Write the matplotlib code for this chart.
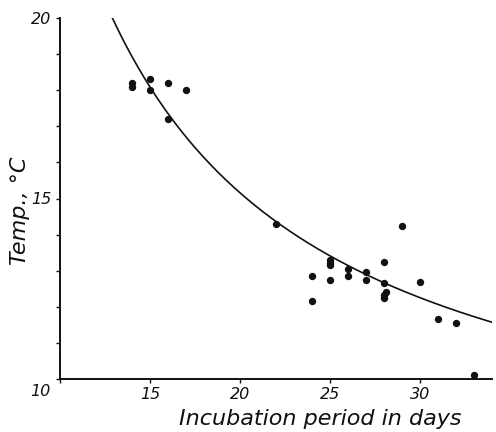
import numpy as np
import matplotlib
matplotlib.use("Agg")
import matplotlib.pyplot as plt
from matplotlib.ticker import MultipleLocator, FixedLocator

# Observed points (incubation period in days, temperature in deg C)
days = [14, 14, 15, 15, 16, 16, 17, 22, 24, 24, 25, 25, 25, 25, 26, 26,
        27, 27, 28, 28, 28.1, 28, 28, 29, 30, 31, 32, 33]
temps = [18.2, 18.1, 18.3, 18.0, 18.2, 17.2, 18.0, 14.3, 12.85, 12.15,
         13.3, 13.22, 13.15, 12.75, 13.05, 12.85, 12.97, 12.73,
         13.25, 12.65, 12.4, 12.32, 12.25, 14.25, 12.68, 11.67, 11.55, 10.1]

# Points
curve_days = [12.9, 14.1, 15.0, 16.1, 16.9, 19.4, 22.0, 25.0, 28.0, 30.6, 34.0]
curve_temp = [20.0, 18.83, 18.1, 17.25, 16.85, 15.45, 14.3, 13.35, 12.68, 12.21, 11.55]

x_ticks = [15, 20, 25, 30]
x_tick_labels = ["15", "20", "25", "30"]
y_ticks = [15, 20]
y_tick_labels = ["15", "20"]

W, H = 496, 432
fig = plt.figure(figsize=(W / 100, H / 100), dpi=100)
ax = fig.add_axes([60 / W, 1 - 379 / H, (492 - 60) / W, (379 - 18) / H])
ax.set_xlim(10, 34)
ax.set_ylim(10, 20)

ink = "#111111"
ax.scatter(days, temps, s=28, color=ink, zorder=3, linewidths=0)

# smooth curve through the read curve points (fit in 1/x)
cx = np.array(curve_days)
cy = np.array(curve_temp)
coef = np.polyfit(1.0 / cx, cy, 2)
xs = np.linspace(cx.min(), cx.max(), 300)
ax.plot(xs, np.polyval(coef, 1.0 / xs), color=ink, lw=1.2, zorder=2)

for s in ("top", "right"):
    ax.spines[s].set_visible(False)
for s in ("left", "bottom"):
    ax.spines[s].set_linewidth(1.4)
    ax.spines[s].set_color(ink)

ax.xaxis.set_major_locator(FixedLocator([10] + x_ticks))
ax.set_xticklabels([""] + x_tick_labels)
ax.yaxis.set_major_locator(FixedLocator([10] + y_ticks))
ax.set_yticklabels([""] + y_tick_labels)
ax.yaxis.set_minor_locator(MultipleLocator(1))
ax.tick_params(axis="both", which="both", direction="out", length=3,
               width=1, color=ink, pad=3, labelsize=11.5)
ax.tick_params(axis="x", which="minor", length=0)

font = dict(family="DejaVu Sans", style="italic", color=ink)
for lab in ax.get_xticklabels() + ax.get_yticklabels():
    lab.set_fontstyle("italic")
    lab.set_color(ink)

fig.text(40 / W, 1 - 392 / H, "10", ha="center", va="center", fontsize=11.5, **font)
fig.text(320 / W, 1 - 419 / H, "Incubation period in days", ha="center",
         va="center", fontsize=16, **font)
fig.text(20 / W, 1 - 211 / H, "Temp., \u00b0C", ha="center", va="center",
         rotation=90, fontsize=16, **font)

fig.savefig("out.png", dpi=100)
